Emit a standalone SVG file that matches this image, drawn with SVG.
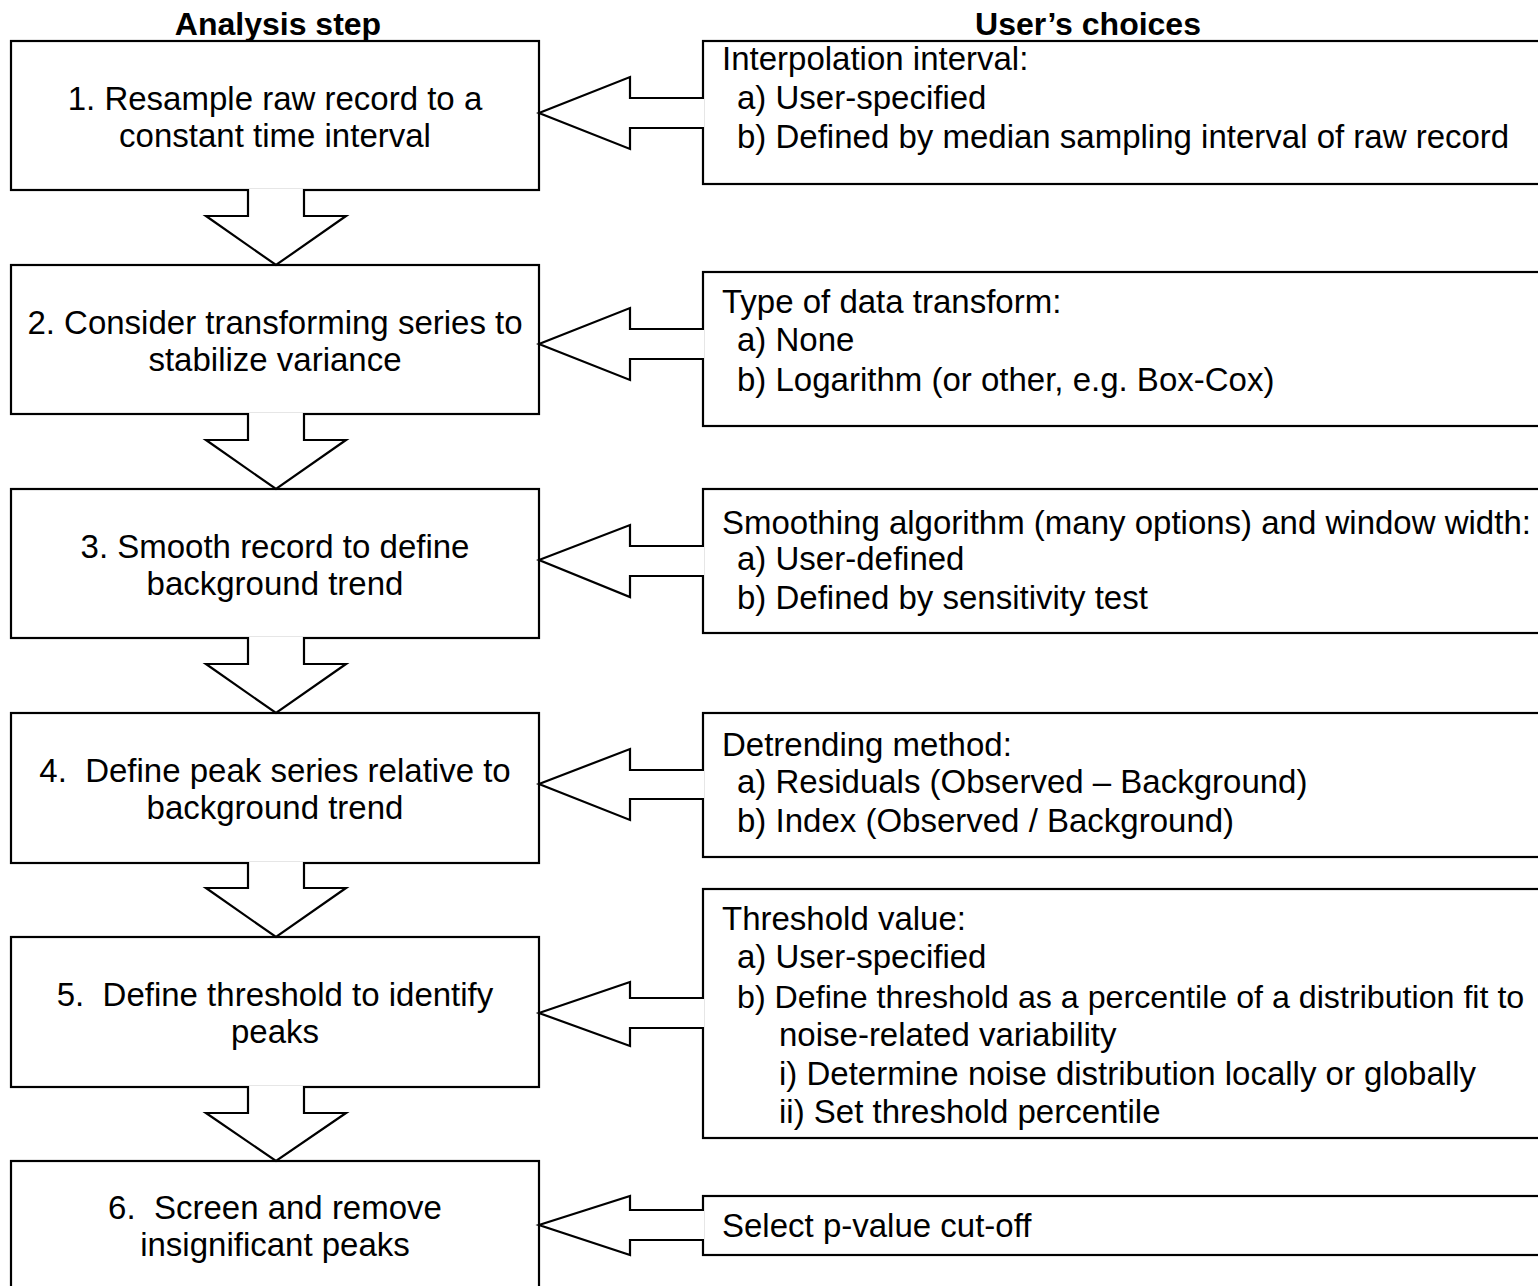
<svg xmlns="http://www.w3.org/2000/svg" width="1538" height="1286" viewBox="0 0 1538 1286">
<style>
.bx{fill:#fff;stroke:#000;stroke-width:2.2}
.ar{fill:#fff;stroke:#000;stroke-width:2.2;stroke-linejoin:miter}
text{font-family:"Liberation Sans",Arial,sans-serif;font-size:33px;fill:#000;white-space:pre}
.h{font-weight:bold;font-size:32px;text-anchor:middle}
.c{text-anchor:middle}
.n{font-size:32.2px}
</style>
<rect width="1538" height="1286" fill="#fff"/>
<g id="headers">
<text class="h" x="278" y="35">Analysis step</text>
<text class="h" x="1088" y="35">User’s choices</text>
</g>
<g id="step1"><rect class="bx" x="11" y="41" width="528" height="149"/>
<text class="c" x="275" y="110">1. Resample raw record to a</text>
<text class="c" x="275" y="147">constant time interval</text></g>
<g id="step2"><rect class="bx" x="11" y="265" width="528" height="149"/>
<text class="c" x="275" y="334">2. Consider transforming series to</text>
<text class="c" x="275" y="371">stabilize variance</text></g>
<g id="step3"><rect class="bx" x="11" y="489" width="528" height="149"/>
<text class="c" x="275" y="558">3. Smooth record to define</text>
<text class="c" x="275" y="595">background trend</text></g>
<g id="step4"><rect class="bx" x="11" y="713" width="528" height="150"/>
<text class="c" x="275" y="782">4.  Define peak series relative to</text>
<text class="c" x="275" y="819">background trend</text></g>
<g id="step5"><rect class="bx" x="11" y="937" width="528" height="150"/>
<text class="c" x="275" y="1006">5.  Define threshold to identify</text>
<text class="c" x="275" y="1043">peaks</text></g>
<g id="step6"><rect class="bx" x="11" y="1161" width="528" height="160"/>
<text class="c" x="275" y="1219">6.  Screen and remove</text>
<text class="c" x="275" y="1256">insignificant peaks</text></g>

<g id="choice1"><rect class="bx" x="703" y="41" width="900" height="143"/>
<text x="722" y="70">Interpolation interval:</text>
<text x="737" y="109">a) User-specified</text>
<text x="737" y="148">b) Defined by median sampling interval of raw record</text></g>
<g id="choice2"><rect class="bx" x="703" y="272" width="900" height="154"/>
<text x="722" y="313">Type of data transform:</text>
<text x="737" y="351">a) None</text>
<text x="737" y="391">b) Logarithm (or other, e.g. Box-Cox)</text></g>
<g id="choice3"><rect class="bx" x="703" y="489" width="900" height="144"/>
<text x="722" y="534">Smoothing algorithm (many options) and window width:</text>
<text x="737" y="570">a) User-defined</text>
<text x="737" y="609">b) Defined by sensitivity test</text></g>
<g id="choice4"><rect class="bx" x="703" y="713" width="900" height="144"/>
<text x="722" y="756">Detrending method:</text>
<text x="737" y="793">a) Residuals (Observed – Background)</text>
<text x="737" y="832">b) Index (Observed / Background)</text></g>
<g id="choice5"><rect class="bx" x="703" y="889" width="900" height="249"/>
<text x="722" y="930">Threshold value:</text>
<text x="737" y="968">a) User-specified</text>
<text class="n" x="737" y="1008">b) Define threshold as a percentile of a distribution fit to</text>
<text x="779" y="1046">noise-related variability</text>
<text x="779" y="1085">i) Determine noise distribution locally or globally</text>
<text x="779" y="1123">ii) Set threshold percentile</text></g>
<g id="choice6"><rect class="bx" x="703" y="1196" width="900" height="59"/>
<text x="722" y="1237">Select p-value cut-off</text></g>

<g id="connectors">
<path class="ar" d="M248,189 V216 H206 L276,265 L346,216 H304 V189"/>
<path class="ar" d="M248,413 V440 H206 L276,489 L346,440 H304 V413"/>
<path class="ar" d="M248,637 V664 H206 L276,713 L346,664 H304 V637"/>
<path class="ar" d="M248,862 V888 H206 L276,937 L346,888 H304 V862"/>
<path class="ar" d="M248,1086 V1113 H206 L276,1161 L346,1113 H304 V1086"/>
<path class="ar" d="M704,98 H630 V77 L539,113 L630,149 V128 H704"/>
<path class="ar" d="M704,329 H630 V308 L539,344 L630,380 V359 H704"/>
<path class="ar" d="M704,546 H630 V525 L539,560 L630,597 V576 H704"/>
<path class="ar" d="M704,770 H630 V749 L539,784 L630,820 V799 H704"/>
<path class="ar" d="M704,998 H630 V982 L539,1013 L630,1046 V1028 H704"/>
<path class="ar" d="M704,1210 H630 V1196 L539,1225 L630,1255 V1240 H704"/>
</g>
</svg>
